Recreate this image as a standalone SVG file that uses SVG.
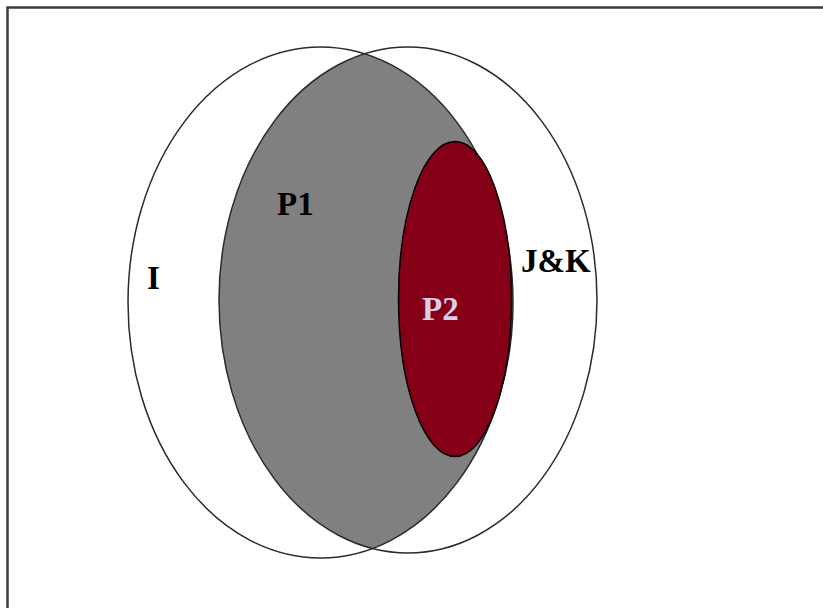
<svg xmlns="http://www.w3.org/2000/svg" width="823" height="608" viewBox="0 0 823 608">
  <style>
    .outline { fill: none; stroke: #2a2a2a; stroke-width: 1.5; }
    .lbl { font-family: "Liberation Serif", "Times New Roman", serif; font-weight: bold; font-size: 33px; }
  </style>
  <defs>
    <clipPath id="clipJK">
      <ellipse cx="408" cy="300" rx="189" ry="253"/>
    </clipPath>
  </defs>
  <rect x="0" y="0" width="823" height="608" fill="#ffffff"/>
  <rect x="7.5" y="7.5" width="840" height="640" fill="none" stroke="#3c3c3c" stroke-width="2.5"/>
  <g id="P1">
    <ellipse cx="320.5" cy="302.5" rx="192.5" ry="255.5" fill="#808080" clip-path="url(#clipJK)"/>
  </g>
  <g id="I">
    <ellipse class="outline" cx="320.5" cy="302.5" rx="192.5" ry="255.5"/>
  </g>
  <g id="JK">
    <ellipse class="outline" cx="408" cy="300" rx="189" ry="253"/>
  </g>
  <g id="P2">
    <ellipse cx="455" cy="299" rx="56.5" ry="157.5" fill="#850016" stroke="#000000" stroke-width="1.5"/>
  </g>
  <g id="connectors"></g>
  <g id="labels">
    <text class="lbl" x="147" y="289" fill="#000000">I</text>
    <text class="lbl" x="277" y="215" fill="#000000">P1</text>
    <text class="lbl" x="521" y="272" fill="#000000">J&amp;K</text>
    <text class="lbl" x="422" y="320" fill="#DCCDEB">P2</text>
  </g>
</svg>
